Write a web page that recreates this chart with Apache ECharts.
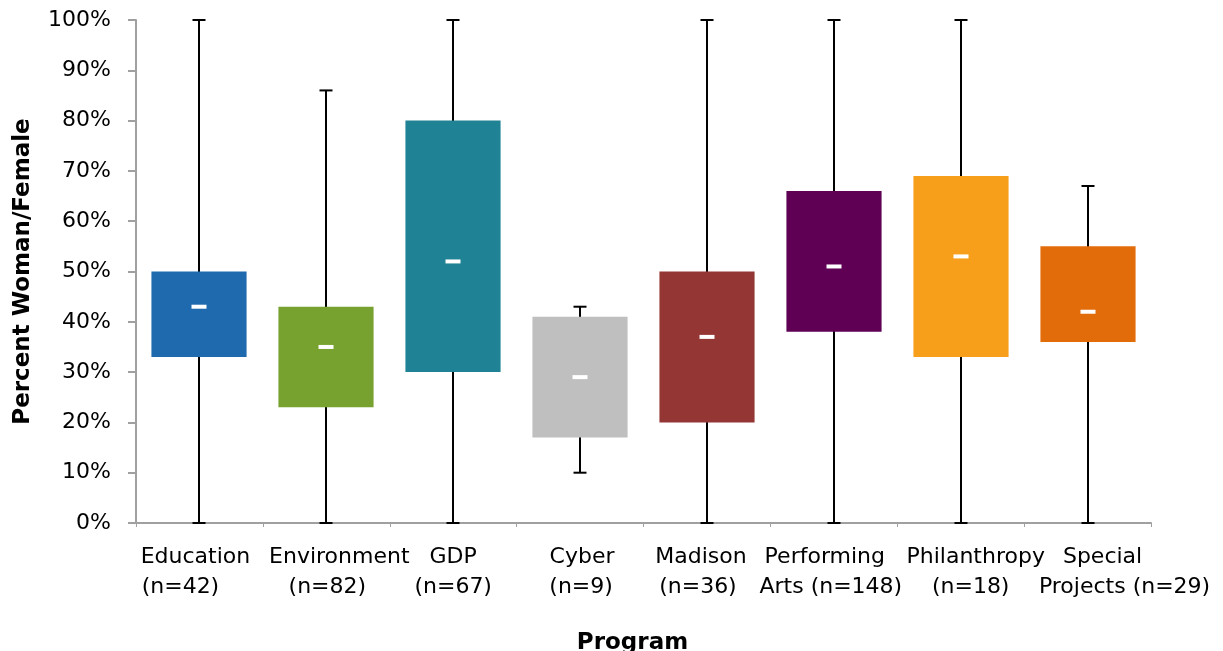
<!DOCTYPE html>
<html>
<head>
<meta charset="utf-8">
<script src="https://cdn.jsdelivr.net/npm/echarts@6/dist/echarts.min.js"></script>
<style>
  html, body { margin: 0; padding: 0; background: #fff; }
  #chart { width: 1223px; height: 651px; }
</style>
</head>
<body>
<div id="chart"></div>
<script>
// Program categories: first and second line of each axis label
const programNames = ['Education', 'Environment', 'GDP', 'Cyber', 'Madison', 'Performing', 'Philanthropy', 'Special'];
const programNotes = ['(n=42)', '(n=82)', '(n=67)', '(n=9)', '(n=36)', 'Arts (n=148)', '(n=18)', 'Projects (n=29)'];
// Share of women/female, in percent
const minimum   = [0, 0, 0, 10, 0, 0, 0, 0];
const quartile1 = [33, 23, 30, 17, 20, 38, 33, 36];
const median    = [43, 35, 52, 29, 37, 51, 53, 42];
const quartile3 = [50, 43, 80, 41, 50, 66, 69, 55];
const maximum   = [100, 86, 100, 43, 100, 100, 100, 67];
const yTicks = [0, 10, 20, 30, 40, 50, 60, 70, 80, 90, 100];

const boxColors = ['#1F6AAE', '#78A22F', '#1F8295', '#BFBFBF', '#943634', '#5F0055', '#F79F1A', '#E36C0A'];
// horizontal nudge (px) of each label line relative to its category centre
const nudgeLine1 = [-4, 13, 0, 2, -6, -9, 15, 15];
const nudgeLine2 = [-19, 1, 0, 1, -9, -3, 10, 37];

const FONT = 'DejaVu Sans, Verdana, sans-serif';
const LABEL_SIZE = 22;

const categories = programNames.map((n, i) => n + '\n' + programNotes[i]);
const seriesData = categories.map((c, i) => [i, minimum[i], quartile1[i], median[i], quartile3[i], maximum[i]]);

function nudgePadding(dx) {
  return dx >= 0 ? [0, 0, 0, 2 * dx] : [0, -2 * dx, 0, 0];
}
const richStyles = {};
categories.forEach((c, i) => {
  const base = { fontFamily: FONT, fontSize: LABEL_SIZE, color: '#000', lineHeight: 30 };
  richStyles['a' + i] = Object.assign({ padding: nudgePadding(nudgeLine1[i]) }, base);
  richStyles['b' + i] = Object.assign({ padding: nudgePadding(nudgeLine2[i]) }, base);
});

function renderBox(params, api) {
  const idx = api.value(0);
  const pMin = api.coord([idx, api.value(1)]);
  const pQ1 = api.coord([idx, api.value(2)]);
  const pMed = api.coord([idx, api.value(3)]);
  const pQ3 = api.coord([idx, api.value(4)]);
  const pMax = api.coord([idx, api.value(5)]);
  const band = api.size([1, 0])[0];
  const boxW = band * 0.75;
  const capW = 13;
  const cx = Math.round(pMin[0]);
  const lineStyle = { stroke: '#000', lineWidth: 2 };
  return {
    type: 'group',
    children: [
      { type: 'line', shape: { x1: cx, y1: pMin[1], x2: cx, y2: pMax[1] }, style: lineStyle },
      { type: 'line', shape: { x1: cx - capW / 2, y1: pMax[1], x2: cx + capW / 2, y2: pMax[1] }, style: lineStyle },
      { type: 'line', shape: { x1: cx - capW / 2, y1: pMin[1], x2: cx + capW / 2, y2: pMin[1] }, style: lineStyle },
      { type: 'rect', shape: { x: cx - boxW / 2, y: pQ3[1], width: boxW, height: pQ1[1] - pQ3[1] },
        style: { fill: boxColors[idx] } },
      { type: 'rect', shape: { x: cx - 7.5, y: pMed[1] - 2, width: 15, height: 4 },
        style: { fill: '#fff' } }
    ]
  };
}

const chart = echarts.init(document.getElementById('chart'), null, { renderer: 'canvas' });
chart.setOption({
  animation: false,
  backgroundColor: '#fff',
  grid: { left: 136, right: 72, top: 20, bottom: 128, containLabel: false, outerBoundsMode: 'none' },
  xAxis: {
    type: 'category',
    data: categories,
    name: 'Program',
    nameLocation: 'middle',
    nameGap: 109,
    nameTextStyle: { fontFamily: FONT, fontSize: 23, fontWeight: 'bold', color: '#000', padding: [0, 22, 0, 0] },
    axisLine: { lineStyle: { color: '#A0A0A0', width: 2 } },
    axisTick: { show: true, length: 4, lineStyle: { color: '#A0A0A0' } },
    axisLabel: {
      fontFamily: FONT, fontSize: LABEL_SIZE, color: '#000', lineHeight: 30, margin: 19, interval: 0,
      formatter: (value, index) => {
        const parts = value.split('\n');
        return '{a' + index + '|' + parts[0] + '}\n{b' + index + '|' + parts[1] + '}';
      },
      rich: richStyles
    }
  },
  yAxis: {
    type: 'value',
    min: 0, max: 100, interval: 10,
    name: 'Percent Woman/Female',
    nameLocation: 'middle',
    nameGap: 101,
    nameRotate: 90,
    nameTextStyle: { fontFamily: FONT, fontSize: 23, fontWeight: 'bold', color: '#000' },
    axisLine: { show: true, lineStyle: { color: '#A0A0A0', width: 2 } },
    axisTick: { show: true, length: 8, lineStyle: { color: '#A0A0A0', width: 2 } },
    splitLine: { show: false },
    axisLabel: {
      fontFamily: FONT, fontSize: LABEL_SIZE, color: '#000', margin: 25,
      formatter: v => yTicks.includes(v) ? v + '%' : ''
    }
  },
  series: [{
    type: 'custom',
    renderItem: renderBox,
    encode: { x: 0, y: [1, 2, 3, 4, 5] },
    data: seriesData
  }]
});
</script>
</body>
</html>
